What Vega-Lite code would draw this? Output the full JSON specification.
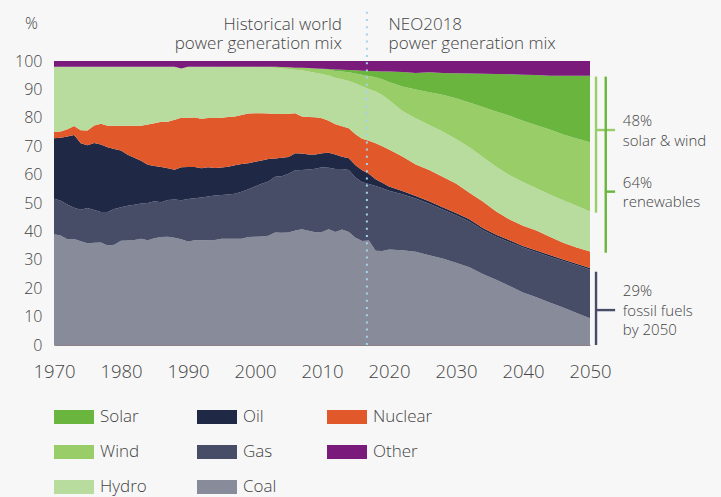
{
"$schema":"https://vega.github.io/schema/vega-lite/v6.json",
"width":536,"height":284,
"autosize":{"type":"none"},
"padding":{"left":54,"top":61,"right":131,"bottom":152},
"background":"#f7f7f7",
"config":{"view":{"stroke":null},"font":"Open Sans","text":{"font":"Open Sans"}},
"datasets":{"mix":[
{"year":1970,"source":"Coal","share":39.0},{"year":1970,"source":"Gas","share":12.6},{"year":1970,"source":"Oil","share":21.2},{"year":1970,"source":"Nuclear","share":2.3},{"year":1970,"source":"Hydro","share":22.9},{"year":1970,"source":"Wind","share":0},{"year":1970,"source":"Solar","share":0},{"year":1970,"source":"Other","share":2.0},
{"year":1971,"source":"Coal","share":38.6},{"year":1971,"source":"Gas","share":12.2},{"year":1971,"source":"Oil","share":22.2},{"year":1971,"source":"Nuclear","share":2.2},{"year":1971,"source":"Hydro","share":22.8},{"year":1971,"source":"Wind","share":0},{"year":1971,"source":"Solar","share":0},{"year":1971,"source":"Other","share":2.0},
{"year":1972,"source":"Coal","share":37.2},{"year":1972,"source":"Gas","share":12.3},{"year":1972,"source":"Oil","share":23.9},{"year":1972,"source":"Nuclear","share":2.6},{"year":1972,"source":"Hydro","share":22.0},{"year":1972,"source":"Wind","share":0},{"year":1972,"source":"Solar","share":0},{"year":1972,"source":"Other","share":2.0},
{"year":1973,"source":"Coal","share":37.3},{"year":1973,"source":"Gas","share":11.0},{"year":1973,"source":"Oil","share":25.6},{"year":1973,"source":"Nuclear","share":3.2},{"year":1973,"source":"Hydro","share":20.9},{"year":1973,"source":"Wind","share":0},{"year":1973,"source":"Solar","share":0},{"year":1973,"source":"Other","share":2.0},
{"year":1974,"source":"Coal","share":36.5},{"year":1974,"source":"Gas","share":11.1},{"year":1974,"source":"Oil","share":23.4},{"year":1974,"source":"Nuclear","share":4.6},{"year":1974,"source":"Hydro","share":22.4},{"year":1974,"source":"Wind","share":0},{"year":1974,"source":"Solar","share":0},{"year":1974,"source":"Other","share":2.0},
{"year":1975,"source":"Coal","share":35.8},{"year":1975,"source":"Gas","share":12.4},{"year":1975,"source":"Oil","share":22.1},{"year":1975,"source":"Nuclear","share":5.2},{"year":1975,"source":"Hydro","share":22.5},{"year":1975,"source":"Wind","share":0},{"year":1975,"source":"Solar","share":0},{"year":1975,"source":"Other","share":2.0},
{"year":1976,"source":"Coal","share":36.0},{"year":1976,"source":"Gas","share":11.5},{"year":1976,"source":"Oil","share":23.6},{"year":1976,"source":"Nuclear","share":6.2},{"year":1976,"source":"Hydro","share":20.7},{"year":1976,"source":"Wind","share":0},{"year":1976,"source":"Solar","share":0},{"year":1976,"source":"Other","share":2.0},
{"year":1977,"source":"Coal","share":36.1},{"year":1977,"source":"Gas","share":10.7},{"year":1977,"source":"Oil","share":23.8},{"year":1977,"source":"Nuclear","share":7.3},{"year":1977,"source":"Hydro","share":20.1},{"year":1977,"source":"Wind","share":0},{"year":1977,"source":"Solar","share":0},{"year":1977,"source":"Other","share":2.0},
{"year":1978,"source":"Coal","share":35.0},{"year":1978,"source":"Gas","share":11.8},{"year":1978,"source":"Oil","share":22.8},{"year":1978,"source":"Nuclear","share":7.6},{"year":1978,"source":"Hydro","share":20.8},{"year":1978,"source":"Wind","share":0},{"year":1978,"source":"Solar","share":0},{"year":1978,"source":"Other","share":2.0},
{"year":1979,"source":"Coal","share":35.3},{"year":1979,"source":"Gas","share":12.6},{"year":1979,"source":"Oil","share":21.1},{"year":1979,"source":"Nuclear","share":8.2},{"year":1979,"source":"Hydro","share":20.8},{"year":1979,"source":"Wind","share":0},{"year":1979,"source":"Solar","share":0},{"year":1979,"source":"Other","share":2.0},
{"year":1980,"source":"Coal","share":36.7},{"year":1980,"source":"Gas","share":11.8},{"year":1980,"source":"Oil","share":20.0},{"year":1980,"source":"Nuclear","share":8.7},{"year":1980,"source":"Hydro","share":20.8},{"year":1980,"source":"Wind","share":0},{"year":1980,"source":"Solar","share":0},{"year":1980,"source":"Other","share":2.0},
{"year":1981,"source":"Coal","share":36.8},{"year":1981,"source":"Gas","share":12.2},{"year":1981,"source":"Oil","share":18.0},{"year":1981,"source":"Nuclear","share":10.2},{"year":1981,"source":"Hydro","share":20.8},{"year":1981,"source":"Wind","share":0},{"year":1981,"source":"Solar","share":0},{"year":1981,"source":"Other","share":2.0},
{"year":1982,"source":"Coal","share":37.0},{"year":1982,"source":"Gas","share":12.4},{"year":1982,"source":"Oil","share":16.5},{"year":1982,"source":"Nuclear","share":11.3},{"year":1982,"source":"Hydro","share":20.8},{"year":1982,"source":"Wind","share":0},{"year":1982,"source":"Solar","share":0},{"year":1982,"source":"Other","share":2.0},
{"year":1983,"source":"Coal","share":37.4},{"year":1983,"source":"Gas","share":12.4},{"year":1983,"source":"Oil","share":15.1},{"year":1983,"source":"Nuclear","share":12.3},{"year":1983,"source":"Hydro","share":20.8},{"year":1983,"source":"Wind","share":0},{"year":1983,"source":"Solar","share":0},{"year":1983,"source":"Other","share":2.0},
{"year":1984,"source":"Coal","share":36.9},{"year":1984,"source":"Gas","share":13.1},{"year":1984,"source":"Oil","share":13.5},{"year":1984,"source":"Nuclear","share":14.1},{"year":1984,"source":"Hydro","share":20.4},{"year":1984,"source":"Wind","share":0},{"year":1984,"source":"Solar","share":0},{"year":1984,"source":"Other","share":2.0},
{"year":1985,"source":"Coal","share":37.6},{"year":1985,"source":"Gas","share":13.0},{"year":1985,"source":"Oil","share":12.4},{"year":1985,"source":"Nuclear","share":15.1},{"year":1985,"source":"Hydro","share":19.9},{"year":1985,"source":"Wind","share":0},{"year":1985,"source":"Solar","share":0},{"year":1985,"source":"Other","share":2.0},
{"year":1986,"source":"Coal","share":38.0},{"year":1986,"source":"Gas","share":12.3},{"year":1986,"source":"Oil","share":12.4},{"year":1986,"source":"Nuclear","share":15.9},{"year":1986,"source":"Hydro","share":19.4},{"year":1986,"source":"Wind","share":0},{"year":1986,"source":"Solar","share":0},{"year":1986,"source":"Other","share":2.0},
{"year":1987,"source":"Coal","share":38.1},{"year":1987,"source":"Gas","share":13.0},{"year":1987,"source":"Oil","share":11.1},{"year":1987,"source":"Nuclear","share":16.4},{"year":1987,"source":"Hydro","share":19.4},{"year":1987,"source":"Wind","share":0},{"year":1987,"source":"Solar","share":0},{"year":1987,"source":"Other","share":2.0},
{"year":1988,"source":"Coal","share":37.8},{"year":1988,"source":"Gas","share":13.4},{"year":1988,"source":"Oil","share":10.5},{"year":1988,"source":"Nuclear","share":17.6},{"year":1988,"source":"Hydro","share":18.7},{"year":1988,"source":"Wind","share":0},{"year":1988,"source":"Solar","share":0},{"year":1988,"source":"Other","share":2.0},
{"year":1989,"source":"Coal","share":37.2},{"year":1989,"source":"Gas","share":13.8},{"year":1989,"source":"Oil","share":11.6},{"year":1989,"source":"Nuclear","share":17.4},{"year":1989,"source":"Hydro","share":17.4},{"year":1989,"source":"Wind","share":0},{"year":1989,"source":"Solar","share":0},{"year":1989,"source":"Other","share":2.6},
{"year":1990,"source":"Coal","share":36.4},{"year":1990,"source":"Gas","share":15.0},{"year":1990,"source":"Oil","share":11.3},{"year":1990,"source":"Nuclear","share":17.3},{"year":1990,"source":"Hydro","share":18.0},{"year":1990,"source":"Wind","share":0},{"year":1990,"source":"Solar","share":0},{"year":1990,"source":"Other","share":2.0},
{"year":1991,"source":"Coal","share":36.9},{"year":1991,"source":"Gas","share":14.8},{"year":1991,"source":"Oil","share":11.0},{"year":1991,"source":"Nuclear","share":17.4},{"year":1991,"source":"Hydro","share":17.9},{"year":1991,"source":"Wind","share":0},{"year":1991,"source":"Solar","share":0},{"year":1991,"source":"Other","share":2.0},
{"year":1992,"source":"Coal","share":36.9},{"year":1992,"source":"Gas","share":15.0},{"year":1992,"source":"Oil","share":10.3},{"year":1992,"source":"Nuclear","share":17.5},{"year":1992,"source":"Hydro","share":18.3},{"year":1992,"source":"Wind","share":0},{"year":1992,"source":"Solar","share":0},{"year":1992,"source":"Other","share":2.0},
{"year":1993,"source":"Coal","share":36.9},{"year":1993,"source":"Gas","share":15.4},{"year":1993,"source":"Oil","share":10.3},{"year":1993,"source":"Nuclear","share":17.3},{"year":1993,"source":"Hydro","share":18.1},{"year":1993,"source":"Wind","share":0},{"year":1993,"source":"Solar","share":0},{"year":1993,"source":"Other","share":2.0},
{"year":1994,"source":"Coal","share":37.0},{"year":1994,"source":"Gas","share":15.6},{"year":1994,"source":"Oil","share":9.7},{"year":1994,"source":"Nuclear","share":17.6},{"year":1994,"source":"Hydro","share":18.1},{"year":1994,"source":"Wind","share":0},{"year":1994,"source":"Solar","share":0},{"year":1994,"source":"Other","share":2.0},
{"year":1995,"source":"Coal","share":37.4},{"year":1995,"source":"Gas","share":15.4},{"year":1995,"source":"Oil","share":9.7},{"year":1995,"source":"Nuclear","share":17.5},{"year":1995,"source":"Hydro","share":17.9},{"year":1995,"source":"Wind","share":0.1},{"year":1995,"source":"Solar","share":0},{"year":1995,"source":"Other","share":2.0},
{"year":1996,"source":"Coal","share":37.4},{"year":1996,"source":"Gas","share":15.6},{"year":1996,"source":"Oil","share":9.8},{"year":1996,"source":"Nuclear","share":17.5},{"year":1996,"source":"Hydro","share":17.6},{"year":1996,"source":"Wind","share":0.1},{"year":1996,"source":"Solar","share":0},{"year":1996,"source":"Other","share":2.0},
{"year":1997,"source":"Coal","share":37.4},{"year":1997,"source":"Gas","share":15.9},{"year":1997,"source":"Oil","share":10.0},{"year":1997,"source":"Nuclear","share":17.2},{"year":1997,"source":"Hydro","share":17.4},{"year":1997,"source":"Wind","share":0.1},{"year":1997,"source":"Solar","share":0},{"year":1997,"source":"Other","share":2.0},
{"year":1998,"source":"Coal","share":37.4},{"year":1998,"source":"Gas","share":16.6},{"year":1998,"source":"Oil","share":9.7},{"year":1998,"source":"Nuclear","share":17.3},{"year":1998,"source":"Hydro","share":16.9},{"year":1998,"source":"Wind","share":0.1},{"year":1998,"source":"Solar","share":0},{"year":1998,"source":"Other","share":2.0},
{"year":1999,"source":"Coal","share":38.0},{"year":1999,"source":"Gas","share":16.8},{"year":1999,"source":"Oil","share":9.2},{"year":1999,"source":"Nuclear","share":17.5},{"year":1999,"source":"Hydro","share":16.3},{"year":1999,"source":"Wind","share":0.2},{"year":1999,"source":"Solar","share":0},{"year":1999,"source":"Other","share":2.0},
{"year":2000,"source":"Coal","share":38.1},{"year":2000,"source":"Gas","share":17.7},{"year":2000,"source":"Oil","share":8.7},{"year":2000,"source":"Nuclear","share":17.1},{"year":2000,"source":"Hydro","share":16.2},{"year":2000,"source":"Wind","share":0.2},{"year":2000,"source":"Solar","share":0},{"year":2000,"source":"Other","share":2.0},
{"year":2001,"source":"Coal","share":38.2},{"year":2001,"source":"Gas","share":18.6},{"year":2001,"source":"Oil","share":8.2},{"year":2001,"source":"Nuclear","share":16.6},{"year":2001,"source":"Hydro","share":16.1},{"year":2001,"source":"Wind","share":0.3},{"year":2001,"source":"Solar","share":0},{"year":2001,"source":"Other","share":2.0},
{"year":2002,"source":"Coal","share":38.5},{"year":2002,"source":"Gas","share":19.1},{"year":2002,"source":"Oil","share":7.9},{"year":2002,"source":"Nuclear","share":16.0},{"year":2002,"source":"Hydro","share":16.2},{"year":2002,"source":"Wind","share":0.3},{"year":2002,"source":"Solar","share":0},{"year":2002,"source":"Other","share":2.0},
{"year":2003,"source":"Coal","share":39.6},{"year":2003,"source":"Gas","share":19.6},{"year":2003,"source":"Oil","share":6.5},{"year":2003,"source":"Nuclear","share":15.6},{"year":2003,"source":"Hydro","share":16.3},{"year":2003,"source":"Wind","share":0.4},{"year":2003,"source":"Solar","share":0},{"year":2003,"source":"Other","share":2.0},
{"year":2004,"source":"Coal","share":39.5},{"year":2004,"source":"Gas","share":19.9},{"year":2004,"source":"Oil","share":6.5},{"year":2004,"source":"Nuclear","share":15.4},{"year":2004,"source":"Hydro","share":16.1},{"year":2004,"source":"Wind","share":0.5},{"year":2004,"source":"Solar","share":0},{"year":2004,"source":"Other","share":2.1},
{"year":2005,"source":"Coal","share":39.6},{"year":2005,"source":"Gas","share":20.7},{"year":2005,"source":"Oil","share":5.9},{"year":2005,"source":"Nuclear","share":15.2},{"year":2005,"source":"Hydro","share":15.8},{"year":2005,"source":"Wind","share":0.6},{"year":2005,"source":"Solar","share":0},{"year":2005,"source":"Other","share":2.2},
{"year":2006,"source":"Coal","share":40.3},{"year":2006,"source":"Gas","share":21.2},{"year":2006,"source":"Oil","share":6.0},{"year":2006,"source":"Nuclear","share":14.1},{"year":2006,"source":"Hydro","share":15.3},{"year":2006,"source":"Wind","share":0.7},{"year":2006,"source":"Solar","share":0},{"year":2006,"source":"Other","share":2.4},
{"year":2007,"source":"Coal","share":40.8},{"year":2007,"source":"Gas","share":20.8},{"year":2007,"source":"Oil","share":5.8},{"year":2007,"source":"Nuclear","share":13.1},{"year":2007,"source":"Hydro","share":16.2},{"year":2007,"source":"Wind","share":0.9},{"year":2007,"source":"Solar","share":0},{"year":2007,"source":"Other","share":2.4},
{"year":2008,"source":"Coal","share":40.2},{"year":2008,"source":"Gas","share":21.6},{"year":2008,"source":"Oil","share":5.3},{"year":2008,"source":"Nuclear","share":13.2},{"year":2008,"source":"Hydro","share":16.0},{"year":2008,"source":"Wind","share":1.1},{"year":2008,"source":"Solar","share":0.1},{"year":2008,"source":"Other","share":2.5},
{"year":2009,"source":"Coal","share":39.7},{"year":2009,"source":"Gas","share":22.4},{"year":2009,"source":"Oil","share":5.0},{"year":2009,"source":"Nuclear","share":13.1},{"year":2009,"source":"Hydro","share":15.7},{"year":2009,"source":"Wind","share":1.4},{"year":2009,"source":"Solar","share":0.1},{"year":2009,"source":"Other","share":2.6},
{"year":2010,"source":"Coal","share":39.8},{"year":2010,"source":"Gas","share":22.8},{"year":2010,"source":"Oil","share":4.9},{"year":2010,"source":"Nuclear","share":12.3},{"year":2010,"source":"Hydro","share":15.6},{"year":2010,"source":"Wind","share":1.7},{"year":2010,"source":"Solar","share":0.2},{"year":2010,"source":"Other","share":2.7},
{"year":2011,"source":"Coal","share":40.8},{"year":2011,"source":"Gas","share":21.6},{"year":2011,"source":"Oil","share":5.3},{"year":2011,"source":"Nuclear","share":11.3},{"year":2011,"source":"Hydro","share":15.9},{"year":2011,"source":"Wind","share":2.0},{"year":2011,"source":"Solar","share":0.3},{"year":2011,"source":"Other","share":2.8},
{"year":2012,"source":"Coal","share":39.8},{"year":2012,"source":"Gas","share":22.2},{"year":2012,"source":"Oil","share":5.1},{"year":2012,"source":"Nuclear","share":10.6},{"year":2012,"source":"Hydro","share":16.4},{"year":2012,"source":"Wind","share":2.4},{"year":2012,"source":"Solar","share":0.5},{"year":2012,"source":"Other","share":3.0},
{"year":2013,"source":"Coal","share":40.7},{"year":2013,"source":"Gas","share":21.3},{"year":2013,"source":"Oil","share":4.3},{"year":2013,"source":"Nuclear","share":10.7},{"year":2013,"source":"Hydro","share":16.6},{"year":2013,"source":"Wind","share":2.7},{"year":2013,"source":"Solar","share":0.6},{"year":2013,"source":"Other","share":3.1},
{"year":2014,"source":"Coal","share":39.8},{"year":2014,"source":"Gas","share":21.8},{"year":2014,"source":"Oil","share":4.2},{"year":2014,"source":"Nuclear","share":10.5},{"year":2014,"source":"Hydro","share":16.7},{"year":2014,"source":"Wind","share":3.0},{"year":2014,"source":"Solar","share":0.8},{"year":2014,"source":"Other","share":3.2},
{"year":2015,"source":"Coal","share":37.8},{"year":2015,"source":"Gas","share":21.2},{"year":2015,"source":"Oil","share":4.3},{"year":2015,"source":"Nuclear","share":10.9},{"year":2015,"source":"Hydro","share":17.9},{"year":2015,"source":"Wind","share":3.5},{"year":2015,"source":"Solar","share":1.1},{"year":2015,"source":"Other","share":3.3},
{"year":2016,"source":"Coal","share":36.6},{"year":2016,"source":"Gas","share":20.7},{"year":2016,"source":"Oil","share":4.2},{"year":2016,"source":"Nuclear","share":11.1},{"year":2016,"source":"Hydro","share":18.5},{"year":2016,"source":"Wind","share":4.1},{"year":2016,"source":"Solar","share":1.4},{"year":2016,"source":"Other","share":3.4},
{"year":2017,"source":"Coal","share":36.8},{"year":2017,"source":"Gas","share":19.9},{"year":2017,"source":"Oil","share":3.6},{"year":2017,"source":"Nuclear","share":11.6},{"year":2017,"source":"Hydro","share":18.2},{"year":2017,"source":"Wind","share":4.6},{"year":2017,"source":"Solar","share":1.8},{"year":2017,"source":"Other","share":3.5},
{"year":2018,"source":"Coal","share":33.2},{"year":2018,"source":"Gas","share":22.8},{"year":2018,"source":"Oil","share":2.4},{"year":2018,"source":"Nuclear","share":12.6},{"year":2018,"source":"Hydro","share":18.3},{"year":2018,"source":"Wind","share":5.0},{"year":2018,"source":"Solar","share":2.1},{"year":2018,"source":"Other","share":3.6},
{"year":2019,"source":"Coal","share":33.1},{"year":2019,"source":"Gas","share":22.1},{"year":2019,"source":"Oil","share":1.9},{"year":2019,"source":"Nuclear","share":12.9},{"year":2019,"source":"Hydro","share":18.0},{"year":2019,"source":"Wind","share":5.6},{"year":2019,"source":"Solar","share":2.7},{"year":2019,"source":"Other","share":3.7},
{"year":2020,"source":"Coal","share":33.6},{"year":2020,"source":"Gas","share":20.7},{"year":2020,"source":"Oil","share":1.5},{"year":2020,"source":"Nuclear","share":13.0},{"year":2020,"source":"Hydro","share":17.5},{"year":2020,"source":"Wind","share":6.3},{"year":2020,"source":"Solar","share":3.7},{"year":2020,"source":"Other","share":3.7},
{"year":2022,"source":"Coal","share":33.4},{"year":2022,"source":"Gas","share":19.7},{"year":2022,"source":"Oil","share":1.1},{"year":2022,"source":"Nuclear","share":12.2},{"year":2022,"source":"Hydro","share":16.0},{"year":2022,"source":"Wind","share":8.6},{"year":2022,"source":"Solar","share":5.1},{"year":2022,"source":"Other","share":3.9},
{"year":2024,"source":"Coal","share":32.8},{"year":2024,"source":"Gas","share":18.8},{"year":2024,"source":"Oil","share":0.9},{"year":2024,"source":"Nuclear","share":11.1},{"year":2024,"source":"Hydro","share":16.2},{"year":2024,"source":"Wind","share":10.2},{"year":2024,"source":"Solar","share":5.8},{"year":2024,"source":"Other","share":4.2},
{"year":2026,"source":"Coal","share":31.6},{"year":2026,"source":"Gas","share":18.1},{"year":2026,"source":"Oil","share":0.9},{"year":2026,"source":"Nuclear","share":11.0},{"year":2026,"source":"Hydro","share":15.9},{"year":2026,"source":"Wind","share":11.5},{"year":2026,"source":"Solar","share":7.0},{"year":2026,"source":"Other","share":4.0},
{"year":2028,"source":"Coal","share":30.5},{"year":2028,"source":"Gas","share":17.2},{"year":2028,"source":"Oil","share":0.8},{"year":2028,"source":"Nuclear","share":10.7},{"year":2028,"source":"Hydro","share":16.0},{"year":2028,"source":"Wind","share":12.9},{"year":2028,"source":"Solar","share":7.7},{"year":2028,"source":"Other","share":4.2},
{"year":2030,"source":"Coal","share":29.0},{"year":2030,"source":"Gas","share":16.7},{"year":2030,"source":"Oil","share":0.8},{"year":2030,"source":"Nuclear","share":10.4},{"year":2030,"source":"Hydro","share":15.6},{"year":2030,"source":"Wind","share":14.4},{"year":2030,"source":"Solar","share":8.8},{"year":2030,"source":"Other","share":4.3},
{"year":2032,"source":"Coal","share":27.4},{"year":2032,"source":"Gas","share":16.1},{"year":2032,"source":"Oil","share":0.8},{"year":2032,"source":"Nuclear","share":9.3},{"year":2032,"source":"Hydro","share":16.0},{"year":2032,"source":"Wind","share":15.8},{"year":2032,"source":"Solar","share":10.2},{"year":2032,"source":"Other","share":4.4},
{"year":2034,"source":"Coal","share":25.0},{"year":2034,"source":"Gas","share":15.5},{"year":2034,"source":"Oil","share":0.7},{"year":2034,"source":"Nuclear","share":9.3},{"year":2034,"source":"Hydro","share":15.7},{"year":2034,"source":"Wind","share":17.6},{"year":2034,"source":"Solar","share":11.7},{"year":2034,"source":"Other","share":4.5},
{"year":2036,"source":"Coal","share":23.0},{"year":2036,"source":"Gas","share":15.1},{"year":2036,"source":"Oil","share":0.7},{"year":2036,"source":"Nuclear","share":8.2},{"year":2036,"source":"Hydro","share":15.8},{"year":2036,"source":"Wind","share":19.4},{"year":2036,"source":"Solar","share":13.2},{"year":2036,"source":"Other","share":4.6},
{"year":2038,"source":"Coal","share":20.8},{"year":2038,"source":"Gas","share":15.4},{"year":2038,"source":"Oil","share":0.7},{"year":2038,"source":"Nuclear","share":7.3},{"year":2038,"source":"Hydro","share":15.6},{"year":2038,"source":"Wind","share":20.9},{"year":2038,"source":"Solar","share":14.6},{"year":2038,"source":"Other","share":4.7},
{"year":2040,"source":"Coal","share":18.5},{"year":2040,"source":"Gas","share":15.8},{"year":2040,"source":"Oil","share":0.6},{"year":2040,"source":"Nuclear","share":7.1},{"year":2040,"source":"Hydro","share":15.4},{"year":2040,"source":"Wind","share":21.6},{"year":2040,"source":"Solar","share":16.2},{"year":2040,"source":"Other","share":4.8},
{"year":2042,"source":"Coal","share":16.8},{"year":2042,"source":"Gas","share":15.9},{"year":2042,"source":"Oil","share":0.6},{"year":2042,"source":"Nuclear","share":7.0},{"year":2042,"source":"Hydro","share":14.9},{"year":2042,"source":"Wind","share":22.2},{"year":2042,"source":"Solar","share":17.7},{"year":2042,"source":"Other","share":4.9},
{"year":2044,"source":"Coal","share":15.0},{"year":2044,"source":"Gas","share":16.1},{"year":2044,"source":"Oil","share":0.6},{"year":2044,"source":"Nuclear","share":6.4},{"year":2044,"source":"Hydro","share":14.9},{"year":2044,"source":"Wind","share":22.9},{"year":2044,"source":"Solar","share":18.9},{"year":2044,"source":"Other","share":5.2},
{"year":2046,"source":"Coal","share":13.2},{"year":2046,"source":"Gas","share":16.4},{"year":2046,"source":"Oil","share":0.5},{"year":2046,"source":"Nuclear","share":5.9},{"year":2046,"source":"Hydro","share":15.0},{"year":2046,"source":"Wind","share":23.1},{"year":2046,"source":"Solar","share":20.7},{"year":2046,"source":"Other","share":5.2},
{"year":2048,"source":"Coal","share":11.3},{"year":2048,"source":"Gas","share":16.8},{"year":2048,"source":"Oil","share":0.5},{"year":2048,"source":"Nuclear","share":5.7},{"year":2048,"source":"Hydro","share":14.7},{"year":2048,"source":"Wind","share":23.7},{"year":2048,"source":"Solar","share":22.1},{"year":2048,"source":"Other","share":5.2},
{"year":2050,"source":"Coal","share":9.4},{"year":2050,"source":"Gas","share":17.2},{"year":2050,"source":"Oil","share":0.5},{"year":2050,"source":"Nuclear","share":5.8},{"year":2050,"source":"Hydro","share":14.1},{"year":2050,"source":"Wind","share":24.4},{"year":2050,"source":"Solar","share":23.4},{"year":2050,"source":"Other","share":5.2}
]},
"layer":[
{"data":{"name":"mix"},
 "transform":[{"calculate":"indexof(['Coal','Gas','Oil','Nuclear','Hydro','Wind','Solar','Other'], datum.source)","as":"stackRank"}],
 "mark":{"type":"area","interpolate":"linear"},
 "encoding":{
  "x":{"field":"year","type":"quantitative","scale":{"domain":[1970,2050],"nice":false,"zero":false},
   "axis":{"values":[1970,1980,1990,2000,2010,2020,2030,2040,2050],"tickCount":9,"format":"d","title":null,"labelFontSize":18.5,"labelPadding":17,"labelColor":"#444444","labelFontWeight":300,"labelOverlap":false,"ticks":false,"grid":false,"domainColor":"#8f8088","domainWidth":1,"labelFlush":false}},
  "y":{"field":"share","type":"quantitative","stack":"zero","scale":{"domain":[0,100],"nice":false},
   "axis":{"values":[0,10,20,30,40,50,60,70,80,90,100],"tickCount":11,"title":"%","titleAngle":0,"titleX":-23,"titleY":-38,"titleAlign":"center","titleBaseline":"middle","titleFontSize":16,"titleFontWeight":300,"titleColor":"#444444","labelFontSize":16,"labelFontWeight":300,"labelColor":"#444444","labelPadding":12,"labelOverlap":false,"labelFlush":false,"ticks":false,"grid":false,"domainColor":"#b8a88f","domainWidth":1}},
  "order":{"field":"stackRank","type":"quantitative","sort":"ascending"},
  "color":{"field":"source","type":"nominal",
   "scale":{"domain":["Coal","Gas","Oil","Nuclear","Hydro","Wind","Solar","Other"],"range":["#888b9a","#474c67","#1f2845","#e1582b","#b8dc9e","#98cd67","#69b53d","#7a1b7b"]},
   "legend":{"orient":"none","legendX":0,"legendY":336,"direction":"horizontal","columns":3,"title":null,
    "values":["Solar","Oil","Nuclear","Wind","Gas","Other","Hydro","Coal"],
    "symbolType":"M-1,-0.35H1V0.35H-1Z","symbolSize":1600,"symbolStrokeWidth":0,"symbolOpacity":1,
    "labelFontSize":17,"labelFontWeight":300,"labelColor":"#444444","labelOffset":6,"columnPadding":50,"rowPadding":7,"padding":0}}
 }},
{"data":{"values":[{}]},
 "mark":{"type":"rule","color":"#a6d2ea","strokeWidth":2,"strokeDash":[2,5.2]},
 "encoding":{"x":{"datum":2016.7,"type":"quantitative"},"y":{"datum":0,"type":"quantitative"},"y2":{"datum":117.4}}},
{"data":{"values":[{}]},
 "mark":{"type":"text","text":["Historical world","power generation mix"],"align":"right","baseline":"alphabetic","dx":-25,"dy":-31.5,"fontSize":17,"fontWeight":300,"lineHeight":19,"color":"#444444"},
 "encoding":{"x":{"datum":2016.7,"type":"quantitative"},"y":{"datum":100,"type":"quantitative"}}},
{"data":{"values":[{}]},
 "mark":{"type":"text","text":["NEO2018","power generation mix"],"align":"left","baseline":"alphabetic","dx":21.7,"dy":-31.5,"fontSize":17,"fontWeight":300,"lineHeight":19,"color":"#444444"},
 "encoding":{"x":{"datum":2016.7,"type":"quantitative"},"y":{"datum":100,"type":"quantitative"}}},
{"data":{"values":[{}]},
 "mark":{"type":"rule","color":"#98cd67","strokeWidth":2.4},
 "encoding":{"x":{"datum":2050.9,"type":"quantitative"},"y":{"datum":94.5,"type":"quantitative"},"y2":{"datum":46.6}}},
{"data":{"values":[{}]},
 "mark":{"type":"rule","color":"#98cd67","strokeWidth":2.4},
 "encoding":{"x":{"datum":2050.9,"type":"quantitative"},"x2":{"datum":2053.75},"y":{"datum":75.7,"type":"quantitative"}}},
{"data":{"values":[{}]},
 "mark":{"type":"rule","color":"#69b53d","strokeWidth":2.4},
 "encoding":{"x":{"datum":2052.35,"type":"quantitative"},"y":{"datum":94.5,"type":"quantitative"},"y2":{"datum":32.5}}},
{"data":{"values":[{}]},
 "mark":{"type":"rule","color":"#69b53d","strokeWidth":2.4},
 "encoding":{"x":{"datum":2052.35,"type":"quantitative"},"x2":{"datum":2053.75},"y":{"datum":54.0,"type":"quantitative"}}},
{"data":{"values":[{}]},
 "mark":{"type":"rule","color":"#474c67","strokeWidth":2.4},
 "encoding":{"x":{"datum":2050.9,"type":"quantitative"},"y":{"datum":25.8,"type":"quantitative"},"y2":{"datum":0}}},
{"data":{"values":[{}]},
 "mark":{"type":"rule","color":"#474c67","strokeWidth":2.4},
 "encoding":{"x":{"datum":2050.9,"type":"quantitative"},"x2":{"datum":2053.75},"y":{"datum":12.3,"type":"quantitative"}}},
{"data":{"values":[{}]},
 "mark":{"type":"text","text":["48%","solar & wind"],"align":"left","baseline":"alphabetic","fontSize":15,"fontWeight":300,"lineHeight":19.5,"color":"#444444"},
 "encoding":{"x":{"datum":2054.9,"type":"quantitative"},"y":{"datum":77.0,"type":"quantitative"}}},
{"data":{"values":[{}]},
 "mark":{"type":"text","text":["64%","renewables"],"align":"left","baseline":"alphabetic","fontSize":15,"fontWeight":300,"lineHeight":19.5,"color":"#444444"},
 "encoding":{"x":{"datum":2054.9,"type":"quantitative"},"y":{"datum":55.4,"type":"quantitative"}}},
{"data":{"values":[{}]},
 "mark":{"type":"text","text":["29%","fossil fuels","by 2050"],"align":"left","baseline":"alphabetic","fontSize":15,"fontWeight":300,"lineHeight":19.5,"color":"#444444"},
 "encoding":{"x":{"datum":2054.9,"type":"quantitative"},"y":{"datum":17.25,"type":"quantitative"}}}
]
}
